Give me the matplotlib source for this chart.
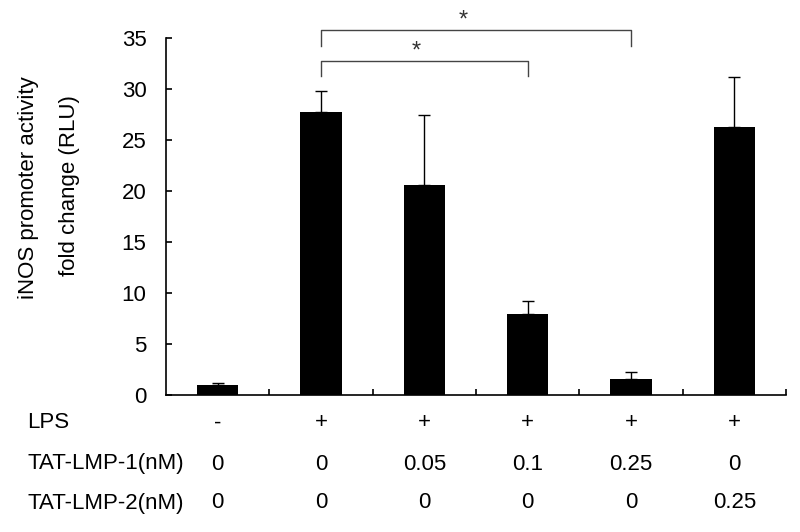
import matplotlib
matplotlib.use("Agg")
import matplotlib.pyplot as plt
from matplotlib.transforms import blended_transform_factory

plt.rcParams['font.family'] = ['Liberation Sans', 'DejaVu Sans']

# Data
values = [1.0, 27.8, 20.6, 7.9, 1.55, 26.3]
errors = [0.15, 2.0, 6.9, 1.3, 0.75, 4.9]
lps = ['-', '+', '+', '+', '+', '+']
lmp1 = ['0', '0', '0.05', '0.1', '0.25', '0']
lmp2 = ['0', '0', '0', '0', '0', '0.25']
row_labels = ['LPS', 'TAT-LMP-1(nM)', 'TAT-LMP-2(nM)']
yticks = [0, 5, 10, 15, 20, 25, 30, 35]
# significance brackets: (start idx, end idx, bracket y, drop y)
brackets = [(1, 4, 35.85, 34.25), (1, 3, 32.8, 31.3)]
stars = [(2.38, 36.7), (1.92, 33.7)]

fig = plt.figure(figsize=(8, 5.32), dpi=100)
ax = fig.add_axes([0.2075, 0.2575, 0.775, 0.6705])

x = list(range(len(values)))
ax.bar(x, values, width=0.4, color='black', zorder=2)
ax.errorbar(x, values, yerr=[[0]*len(values), errors], fmt='none',
            ecolor='black', elinewidth=1.0, capsize=4, capthick=1.0, zorder=1)

ax.set_xlim(-0.5, 5.5)
ax.set_ylim(0, 35)
ax.set_yticks(yticks)
ax.set_yticklabels([str(t) for t in yticks], fontsize=16)
ax.tick_params(axis='y', direction='in', length=4, width=1.2, pad=14)
ax.set_xticks([])
ax.set_xticks([i + 0.5 for i in range(len(values))], minor=True)
ax.tick_params(axis='x', which='minor', direction='in', length=4, width=1.2)
ax.tick_params(axis='x', which='major', length=0)
for s in ['top', 'right']:
    ax.spines[s].set_visible(False)
for s in ['left', 'bottom']:
    ax.spines[s].set_linewidth(1.2)

# significance brackets
bc = '#444444'
for (a, b, yb, yd) in brackets:
    ax.plot([a, a, b, b], [yd, yb, yb, yd], color=bc, lw=1.0, clip_on=False)
for (sx, sy) in stars:
    ax.text(sx, sy, '*', ha='center', va='center', fontsize=17, color='#333333', clip_on=False)

# y label (two lines)
fig.text(29/800, 1 - 188/532, 'iNOS promoter activity', rotation=90,
         ha='center', va='center', fontsize=16)
fig.text(70/800, 1 - 186/532, 'fold change (RLU)', rotation=90,
         ha='center', va='center', fontsize=16)

# condition table
tr = blended_transform_factory(ax.transData, fig.transFigure)
row_y = [1 - 423/532, 1 - 464/532, 1 - 503/532]
rows = [lps, lmp1, lmp2]
for lab, yy, vals in zip(row_labels, row_y, rows):
    fig.text(27/800, yy, lab, ha='left', va='center', fontsize=16)
    for i, v in enumerate(vals):
        ax.text(i, yy, v, transform=tr, ha='center', va='center', fontsize=16)

fig.savefig('out.png', dpi=100)
